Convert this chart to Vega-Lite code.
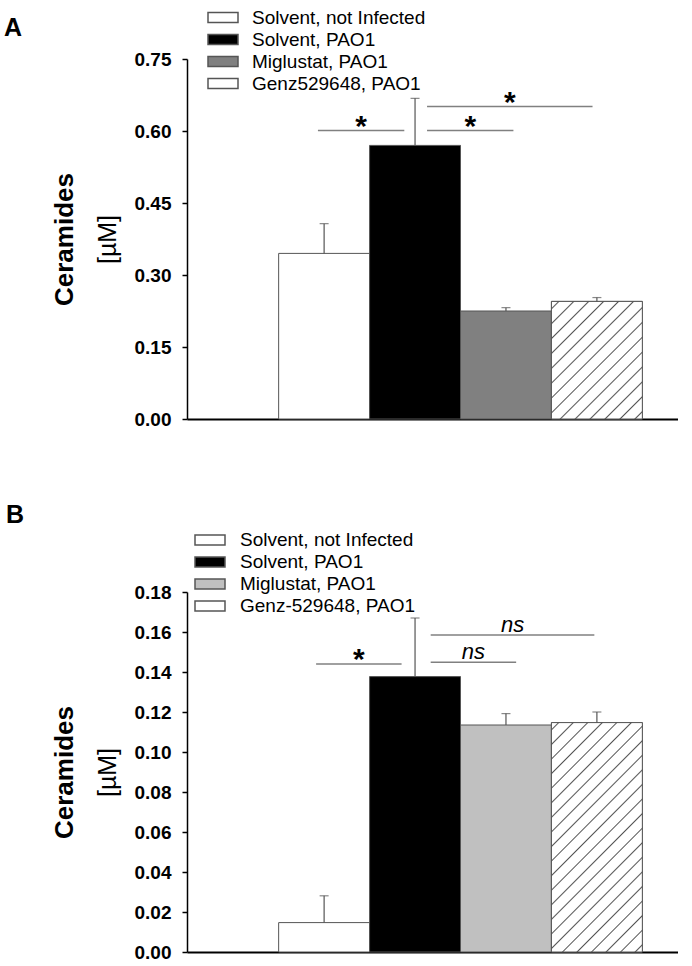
{
  "$schema": "https://vega.github.io/schema/vega-lite/v6.json",
  "background": "white",
  "padding": {"left": 4, "top": 6, "right": 0, "bottom": 0},
  "config": {
    "view": {"stroke": null},
    "font": "Liberation Sans",
    "axis": {"grid": false},
    "concat": {"spacing": 74}
  },
  "resolve": {"scale": {"fill": "independent"}, "legend": {"fill": "independent"}},
  "datasets": {
    "barsA": [
      {"group": "Solvent, not Infected", "mean": 0.345, "upper": 0.407},
      {"group": "Solvent, PAO1", "mean": 0.570, "upper": 0.668},
      {"group": "Miglustat, PAO1", "mean": 0.225, "upper": 0.232},
      {"group": "Genz529648, PAO1", "mean": 0.245, "upper": 0.253}
    ],
    "sigA": [
      {"id": 1, "x1": 0.93, "x2": 1.88, "y": 0.601, "label": "*"},
      {"id": 2, "x1": 2.13, "x2": 3.08, "y": 0.601, "label": "*"},
      {"id": 3, "x1": 2.13, "x2": 3.95, "y": 0.651, "label": "*"}
    ],
    "barsB": [
      {"group": "Solvent, not Infected", "mean": 0.0147, "upper": 0.0281},
      {"group": "Solvent, PAO1", "mean": 0.1377, "upper": 0.1670},
      {"group": "Miglustat, PAO1", "mean": 0.1135, "upper": 0.1192},
      {"group": "Genz-529648, PAO1", "mean": 0.1147, "upper": 0.1200}
    ],
    "sigB": [
      {"id": 1, "x1": 0.91, "x2": 1.85, "y": 0.1440, "label": "*"},
      {"id": 2, "x1": 2.17, "x2": 3.11, "y": 0.1449, "label": "ns"},
      {"id": 3, "x1": 2.17, "x2": 3.97, "y": 0.1585, "label": "ns"}
    ]
  },
  "vconcat": [
    {
      "width": 491,
      "height": 360,
      "title": {"text": "A", "anchor": "start", "frame": "group", "fontSize": 25, "fontWeight": "bold", "font": "Liberation Sans", "color": "black", "dx": -183, "dy": 34, "offset": 0},
      "layer": [
        {
          "data": {"name": "barsA"},
          "mark": {"type": "bar", "stroke": "#555555", "strokeWidth": 1},
          "encoding": {
            "x": {"field": "group", "type": "nominal", "sort": null,
                  "scale": {"domain": ["Solvent, not Infected", "Solvent, PAO1", "Miglustat, PAO1", "Genz529648, PAO1"], "paddingInner": 0, "paddingOuter": 0.7, "align": 0.72},
                  "axis": {"title": null, "labels": false, "ticks": false, "domainColor": "black", "domainWidth": 2}},
            "y": {"field": "mean", "type": "quantitative",
                  "scale": {"domain": [0, 0.75], "nice": false},
                  "axis": {"title": "[µM]", "titleFontSize": 25, "titleFontWeight": "normal", "titleColor": "black", "titlePadding": 14,
                           "values": [0, 0.15, 0.3, 0.45, 0.6, 0.75], "format": ".2f",
                           "labelFontSize": 19, "labelFontWeight": "bold", "labelColor": "black", "labelPadding": 11,
                           "tickSize": 5, "tickColor": "black", "tickWidth": 1.5, "domainColor": "black", "domainWidth": 1.5}},
            "fill": {"field": "group", "type": "nominal", "sort": null,
                     "scale": {"domain": ["Solvent, not Infected", "Solvent, PAO1", "Miglustat, PAO1", "Genz529648, PAO1"],
                               "range": ["#ffffff", "#000000", "#808080", "#ffffff"]},
                     "legend": {"orient": "none", "legendX": 25, "legendY": -52.5, "title": null, "padding": 0,
                                "symbolType": "M-1.5,-0.5H1.5V0.5H-1.5Z", "symbolSize": 400,
                                "labelFontSize": 19, "labelFont": "Liberation Sans", "labelColor": "black", "labelOffset": 18, "labelLimit": 400, "rowPadding": 1,
                                "encode": {"symbols": {"update": {
                                  "stroke": {"value": "#555555"}, "strokeWidth": {"value": 1},
                                  "shape": [
                                    {"test": "datum.value === 'Genz529648, PAO1'", "value": "M-1.5,-0.5H1.5V0.5H-1.5Z M-1.2,0.5L-0.4,-0.5 M-0.2,0.5L0.6,-0.5 M0.8,0.5L1.5,-0.375"},
                                    {"value": "M-1.5,-0.5H1.5V0.5H-1.5Z"}]}}}}}
          }
        },
        {
          "data": {"name": "barsA"},
          "transform": [{"filter": "datum.group === 'Genz529648, PAO1'"}],
          "mark": {"type": "bar", "stroke": "#555555", "strokeWidth": 1,
                   "fill": {"gradient": "linear", "x1": 0, "y1": 0, "x2": 0.856, "y2": 1.111, "stops": [
                     {"offset": 0, "color": "#ffffff"},
                     {"offset": 0.0287, "color": "#ffffff"}, {"offset": 0.0357, "color": "#555555"}, {"offset": 0.0427, "color": "#ffffff"},
                     {"offset": 0.1001, "color": "#ffffff"}, {"offset": 0.1071, "color": "#555555"}, {"offset": 0.1141, "color": "#ffffff"},
                     {"offset": 0.1716, "color": "#ffffff"}, {"offset": 0.1786, "color": "#555555"}, {"offset": 0.1856, "color": "#ffffff"},
                     {"offset": 0.243, "color": "#ffffff"}, {"offset": 0.25, "color": "#555555"}, {"offset": 0.257, "color": "#ffffff"},
                     {"offset": 0.3144, "color": "#ffffff"}, {"offset": 0.3214, "color": "#555555"}, {"offset": 0.3284, "color": "#ffffff"},
                     {"offset": 0.3859, "color": "#ffffff"}, {"offset": 0.3929, "color": "#555555"}, {"offset": 0.3999, "color": "#ffffff"},
                     {"offset": 0.4573, "color": "#ffffff"}, {"offset": 0.4643, "color": "#555555"}, {"offset": 0.4713, "color": "#ffffff"},
                     {"offset": 0.5287, "color": "#ffffff"}, {"offset": 0.5357, "color": "#555555"}, {"offset": 0.5427, "color": "#ffffff"},
                     {"offset": 0.6001, "color": "#ffffff"}, {"offset": 0.6071, "color": "#555555"}, {"offset": 0.6141, "color": "#ffffff"},
                     {"offset": 0.6716, "color": "#ffffff"}, {"offset": 0.6786, "color": "#555555"}, {"offset": 0.6856, "color": "#ffffff"},
                     {"offset": 0.743, "color": "#ffffff"}, {"offset": 0.75, "color": "#555555"}, {"offset": 0.757, "color": "#ffffff"},
                     {"offset": 0.8144, "color": "#ffffff"}, {"offset": 0.8214, "color": "#555555"}, {"offset": 0.8284, "color": "#ffffff"},
                     {"offset": 0.8859, "color": "#ffffff"}, {"offset": 0.8929, "color": "#555555"}, {"offset": 0.8999, "color": "#ffffff"},
                     {"offset": 0.9573, "color": "#ffffff"}, {"offset": 0.9643, "color": "#555555"}, {"offset": 0.9713, "color": "#ffffff"},
                     {"offset": 1, "color": "#ffffff"}]}},
          "encoding": {
            "x": {"field": "group", "type": "nominal", "sort": null,
                  "scale": {"domain": ["Solvent, not Infected", "Solvent, PAO1", "Miglustat, PAO1", "Genz529648, PAO1"], "paddingInner": 0, "paddingOuter": 0.7, "align": 0.72},
                  "axis": null},
            "y": {"field": "mean", "type": "quantitative", "axis": null}
          }
        },
        {
          "data": {"name": "barsA"},
          "mark": {"type": "rule", "color": "#555555", "strokeWidth": 1.2},
          "encoding": {
            "x": {"field": "group", "type": "nominal", "sort": null,
                  "scale": {"domain": ["Solvent, not Infected", "Solvent, PAO1", "Miglustat, PAO1", "Genz529648, PAO1"], "paddingInner": 0, "paddingOuter": 0.7, "align": 0.72},
                  "axis": null},
            "y": {"field": "mean", "type": "quantitative", "axis": null},
            "y2": {"field": "upper"}
          }
        },
        {
          "data": {"name": "barsA"},
          "mark": {"type": "tick", "color": "#555555", "size": 9, "thickness": 1.2},
          "encoding": {
            "x": {"field": "group", "type": "nominal", "sort": null,
                  "scale": {"domain": ["Solvent, not Infected", "Solvent, PAO1", "Miglustat, PAO1", "Genz529648, PAO1"], "paddingInner": 0, "paddingOuter": 0.7, "align": 0.72},
                  "axis": null},
            "y": {"field": "upper", "type": "quantitative", "axis": null}
          }
        },
        {
          "data": {"name": "sigA"},
          "mark": {"type": "rule", "color": "#808080", "strokeWidth": 1.5},
          "encoding": {
            "x": {"field": "x1", "type": "quantitative", "scale": {"domain": [-0.51, 4.89], "nice": false, "zero": false}, "axis": null},
            "x2": {"field": "x2"},
            "y": {"field": "y", "type": "quantitative",
                  "axis": {"title": "Ceramides", "orient": "left", "labels": false, "ticks": false, "domain": false,
                           "titleFontSize": 26, "titleFontWeight": "bold", "titleColor": "black", "titlePadding": 110}}
          }
        },
        {
          "data": {"name": "sigA"},
          "transform": [{"fold": ["x1", "x2"], "as": ["end", "xv"]}],
          "mark": {"type": "text", "fontSize": 30, "fontWeight": "bold", "baseline": "alphabetic", "dy": 5, "color": "black"},
          "encoding": {
            "x": {"aggregate": "mean", "field": "xv", "type": "quantitative", "scale": {"domain": [-0.51, 4.89], "nice": false, "zero": false}, "axis": null},
            "y": {"aggregate": "max", "field": "y", "type": "quantitative", "axis": null},
            "text": {"field": "label"},
            "detail": {"field": "id"}
          }
        }
      ],
      "resolve": {"scale": {"x": "independent"}, "axis": {"y": "independent"}}
    },
    {
      "width": 491,
      "height": 360,
      "title": {"text": "B", "anchor": "start", "frame": "group", "fontSize": 25, "fontWeight": "bold", "font": "Liberation Sans", "color": "black", "dx": -181, "dy": -1, "offset": 0},
      "layer": [
        {
          "data": {"name": "barsB"},
          "mark": {"type": "bar", "stroke": "#555555", "strokeWidth": 1},
          "encoding": {
            "x": {"field": "group", "type": "nominal", "sort": null,
                  "scale": {"domain": ["Solvent, not Infected", "Solvent, PAO1", "Miglustat, PAO1", "Genz-529648, PAO1"], "paddingInner": 0, "paddingOuter": 0.7, "align": 0.72},
                  "axis": {"title": null, "labels": false, "ticks": false, "domainColor": "black", "domainWidth": 2}},
            "y": {"field": "mean", "type": "quantitative",
                  "scale": {"domain": [0, 0.18], "nice": false},
                  "axis": {"title": "[µM]", "titleFontSize": 25, "titleFontWeight": "normal", "titleColor": "black", "titlePadding": 14,
                           "values": [0, 0.02, 0.04, 0.06, 0.08, 0.1, 0.12, 0.14, 0.16, 0.18], "format": ".2f",
                           "labelFontSize": 19, "labelFontWeight": "bold", "labelColor": "black", "labelPadding": 11,
                           "tickSize": 5, "tickColor": "black", "tickWidth": 1.5, "domainColor": "black", "domainWidth": 1.5}},
            "fill": {"field": "group", "type": "nominal", "sort": null,
                     "scale": {"domain": ["Solvent, not Infected", "Solvent, PAO1", "Miglustat, PAO1", "Genz-529648, PAO1"],
                               "range": ["#ffffff", "#000000", "#c0c0c0", "#ffffff"]},
                     "legend": {"orient": "none", "legendX": 12, "legendY": -63, "title": null, "padding": 0,
                                "symbolType": "M-1.5,-0.5H1.5V0.5H-1.5Z", "symbolSize": 400,
                                "labelFontSize": 19, "labelFont": "Liberation Sans", "labelColor": "black", "labelOffset": 19, "labelLimit": 400, "rowPadding": 1,
                                "encode": {"symbols": {"update": {
                                  "stroke": {"value": "#555555"}, "strokeWidth": {"value": 1},
                                  "shape": [
                                    {"test": "datum.value === 'Genz-529648, PAO1'", "value": "M-1.5,-0.5H1.5V0.5H-1.5Z M-1.2,0.5L-0.4,-0.5 M-0.2,0.5L0.6,-0.5 M0.8,0.5L1.5,-0.375"},
                                    {"value": "M-1.5,-0.5H1.5V0.5H-1.5Z"}]}}}}}
          }
        },
        {
          "data": {"name": "barsB"},
          "transform": [{"filter": "datum.group === 'Genz-529648, PAO1'"}],
          "mark": {"type": "bar", "stroke": "#555555", "strokeWidth": 1,
                   "fill": {"gradient": "linear", "x1": 0, "y1": 0, "x2": 0.48, "y2": 1.207, "stops": [
                     {"offset": 0, "color": "#ffffff"},
                     {"offset": 0.0182, "color": "#ffffff"}, {"offset": 0.0227, "color": "#555555"}, {"offset": 0.0272, "color": "#ffffff"},
                     {"offset": 0.0637, "color": "#ffffff"}, {"offset": 0.0682, "color": "#555555"}, {"offset": 0.0727, "color": "#ffffff"},
                     {"offset": 0.1091, "color": "#ffffff"}, {"offset": 0.1136, "color": "#555555"}, {"offset": 0.1181, "color": "#ffffff"},
                     {"offset": 0.1546, "color": "#ffffff"}, {"offset": 0.1591, "color": "#555555"}, {"offset": 0.1636, "color": "#ffffff"},
                     {"offset": 0.2, "color": "#ffffff"}, {"offset": 0.2045, "color": "#555555"}, {"offset": 0.209, "color": "#ffffff"},
                     {"offset": 0.2455, "color": "#ffffff"}, {"offset": 0.25, "color": "#555555"}, {"offset": 0.2545, "color": "#ffffff"},
                     {"offset": 0.291, "color": "#ffffff"}, {"offset": 0.2955, "color": "#555555"}, {"offset": 0.3, "color": "#ffffff"},
                     {"offset": 0.3364, "color": "#ffffff"}, {"offset": 0.3409, "color": "#555555"}, {"offset": 0.3454, "color": "#ffffff"},
                     {"offset": 0.3819, "color": "#ffffff"}, {"offset": 0.3864, "color": "#555555"}, {"offset": 0.3909, "color": "#ffffff"},
                     {"offset": 0.4273, "color": "#ffffff"}, {"offset": 0.4318, "color": "#555555"}, {"offset": 0.4363, "color": "#ffffff"},
                     {"offset": 0.4728, "color": "#ffffff"}, {"offset": 0.4773, "color": "#555555"}, {"offset": 0.4818, "color": "#ffffff"},
                     {"offset": 0.5182, "color": "#ffffff"}, {"offset": 0.5227, "color": "#555555"}, {"offset": 0.5272, "color": "#ffffff"},
                     {"offset": 0.5637, "color": "#ffffff"}, {"offset": 0.5682, "color": "#555555"}, {"offset": 0.5727, "color": "#ffffff"},
                     {"offset": 0.6091, "color": "#ffffff"}, {"offset": 0.6136, "color": "#555555"}, {"offset": 0.6181, "color": "#ffffff"},
                     {"offset": 0.6546, "color": "#ffffff"}, {"offset": 0.6591, "color": "#555555"}, {"offset": 0.6636, "color": "#ffffff"},
                     {"offset": 0.7, "color": "#ffffff"}, {"offset": 0.7045, "color": "#555555"}, {"offset": 0.709, "color": "#ffffff"},
                     {"offset": 0.7455, "color": "#ffffff"}, {"offset": 0.75, "color": "#555555"}, {"offset": 0.7545, "color": "#ffffff"},
                     {"offset": 0.791, "color": "#ffffff"}, {"offset": 0.7955, "color": "#555555"}, {"offset": 0.8, "color": "#ffffff"},
                     {"offset": 0.8364, "color": "#ffffff"}, {"offset": 0.8409, "color": "#555555"}, {"offset": 0.8454, "color": "#ffffff"},
                     {"offset": 0.8819, "color": "#ffffff"}, {"offset": 0.8864, "color": "#555555"}, {"offset": 0.8909, "color": "#ffffff"},
                     {"offset": 0.9273, "color": "#ffffff"}, {"offset": 0.9318, "color": "#555555"}, {"offset": 0.9363, "color": "#ffffff"},
                     {"offset": 0.9728, "color": "#ffffff"}, {"offset": 0.9773, "color": "#555555"}, {"offset": 0.9818, "color": "#ffffff"},
                     {"offset": 1, "color": "#ffffff"}]}},
          "encoding": {
            "x": {"field": "group", "type": "nominal", "sort": null,
                  "scale": {"domain": ["Solvent, not Infected", "Solvent, PAO1", "Miglustat, PAO1", "Genz-529648, PAO1"], "paddingInner": 0, "paddingOuter": 0.7, "align": 0.72},
                  "axis": null},
            "y": {"field": "mean", "type": "quantitative", "axis": null}
          }
        },
        {
          "data": {"name": "barsB"},
          "mark": {"type": "rule", "color": "#555555", "strokeWidth": 1.2},
          "encoding": {
            "x": {"field": "group", "type": "nominal", "sort": null,
                  "scale": {"domain": ["Solvent, not Infected", "Solvent, PAO1", "Miglustat, PAO1", "Genz-529648, PAO1"], "paddingInner": 0, "paddingOuter": 0.7, "align": 0.72},
                  "axis": null},
            "y": {"field": "mean", "type": "quantitative", "axis": null},
            "y2": {"field": "upper"}
          }
        },
        {
          "data": {"name": "barsB"},
          "mark": {"type": "tick", "color": "#555555", "size": 9, "thickness": 1.2},
          "encoding": {
            "x": {"field": "group", "type": "nominal", "sort": null,
                  "scale": {"domain": ["Solvent, not Infected", "Solvent, PAO1", "Miglustat, PAO1", "Genz-529648, PAO1"], "paddingInner": 0, "paddingOuter": 0.7, "align": 0.72},
                  "axis": null},
            "y": {"field": "upper", "type": "quantitative", "axis": null}
          }
        },
        {
          "data": {"name": "sigB"},
          "mark": {"type": "rule", "color": "#808080", "strokeWidth": 1.5},
          "encoding": {
            "x": {"field": "x1", "type": "quantitative", "scale": {"domain": [-0.51, 4.89], "nice": false, "zero": false}, "axis": null},
            "x2": {"field": "x2"},
            "y": {"field": "y", "type": "quantitative",
                  "axis": {"title": "Ceramides", "orient": "left", "labels": false, "ticks": false, "domain": false,
                           "titleFontSize": 26, "titleFontWeight": "bold", "titleColor": "black", "titlePadding": 110}}
          }
        },
        {
          "data": {"name": "sigB"},
          "transform": [{"filter": "datum.label === '*'"}, {"fold": ["x1", "x2"], "as": ["end", "xv"]}],
          "mark": {"type": "text", "fontSize": 30, "fontWeight": "bold", "baseline": "alphabetic", "dy": 5, "color": "black"},
          "encoding": {
            "x": {"aggregate": "mean", "field": "xv", "type": "quantitative", "scale": {"domain": [-0.51, 4.89], "nice": false, "zero": false}, "axis": null},
            "y": {"aggregate": "max", "field": "y", "type": "quantitative", "axis": null},
            "text": {"field": "label"},
            "detail": {"field": "id"}
          }
        },
        {
          "data": {"name": "sigB"},
          "transform": [{"filter": "datum.label === 'ns'"}, {"fold": ["x1", "x2"], "as": ["end", "xv"]}],
          "mark": {"type": "text", "fontSize": 22, "fontStyle": "italic", "baseline": "alphabetic", "dy": -3, "color": "black"},
          "encoding": {
            "x": {"aggregate": "mean", "field": "xv", "type": "quantitative", "scale": {"domain": [-0.51, 4.89], "nice": false, "zero": false}, "axis": null},
            "y": {"aggregate": "max", "field": "y", "type": "quantitative", "axis": null},
            "text": {"field": "label"},
            "detail": {"field": "id"}
          }
        }
      ],
      "resolve": {"scale": {"x": "independent"}, "axis": {"y": "independent"}}
    }
  ]
}
